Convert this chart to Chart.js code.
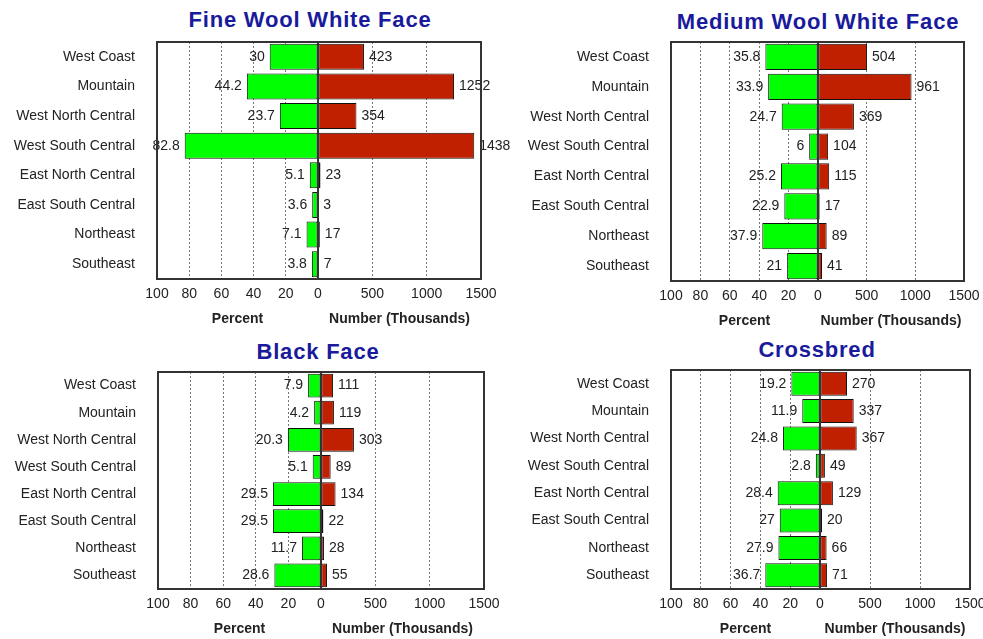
<!DOCTYPE html>
<html>
<head>
<meta charset="utf-8">
<script src="https://cdn.jsdelivr.net/npm/chart.js@4/dist/chart.umd.min.js"></script>
<style>
  body { margin: 0; background: #fff; }
  #wrap { position: relative; width: 983px; height: 639px; overflow: hidden; }
  #wrap canvas { position: absolute; }
  .title { position: absolute; transform: translate(-50%, -50%); white-space: nowrap; letter-spacing: 0.8px;
           font: bold 22px "Liberation Sans", Arial, sans-serif; color: #1a1a9c; }
</style>
</head>
<body>
<div id="wrap"></div>
<script>
// Datos
const regions = ['West Coast','Mountain','West North Central','West South Central',
                 'East North Central','East South Central','Northeast','Southeast'];
const panelTitles = ['Fine Wool White Face','Medium Wool White Face','Black Face','Crossbred'];

const fineWoolPct    = [30, 44.2, 23.7, 82.8, 5.1, 3.6, 7.1, 3.8];
const fineWoolNum    = [423, 1252, 354, 1438, 23, 3, 17, 7];
const mediumWoolPct  = [35.8, 33.9, 24.7, 6, 25.2, 22.9, 37.9, 21];
const mediumWoolNum  = [504, 961, 369, 104, 115, 17, 89, 41];
const blackFacePct   = [7.9, 4.2, 20.3, 5.1, 29.5, 29.5, 11.7, 28.6];
const blackFaceNum   = [111, 119, 303, 89, 134, 22, 28, 55];
const crossbredPct   = [19.2, 11.9, 24.8, 2.8, 28.4, 27, 27.9, 36.7];
const crossbredNum   = [270, 337, 367, 49, 129, 20, 66, 71];

const pctSeries = [fineWoolPct, mediumWoolPct, blackFacePct, crossbredPct];
const numSeries = [fineWoolNum, mediumWoolNum, blackFaceNum, crossbredNum];

const pctMax = 100, pctStep = 20;
const numMax = 1500, numStep = 500;

// Posición de cada panel (pl = borde izq., z = cero, nr = borde der.)
const boxes = [
  { pl: 157, z: 318, nr: 481, top: 42,  bot: 279, tx: 310, ty: 20 },
  { pl: 671, z: 818, nr: 964, top: 42,  bot: 281, tx: 818, ty: 22 },
  { pl: 158, z: 321, nr: 484, top: 372, bot: 589, tx: 318, ty: 352 },
  { pl: 671, z: 820, nr: 970, top: 370, bot: 589, tx: 817, ty: 350 }
];

const FONT = '"Liberation Sans", Arial, sans-serif';
const GREEN = '#00ff00', RED = '#c02000';
const yW = 150, padT = 10, axisH = 52, padL = 12, padR = 45;

const wrap = document.getElementById('wrap');

// Marco + etiquetas de valores
const frameAndLabels = {
  id: 'frameAndLabels',
  afterDraw(chart) {
    const { ctx, chartArea: a } = chart;
    const side = chart.options.plugins.frameAndLabels.side;
    ctx.save();
    ctx.font = '14px ' + FONT;
    ctx.fillStyle = '#222';
    ctx.textBaseline = 'middle';
    ctx.textAlign = side === 'pct' ? 'right' : 'left';
    const ds = chart.data.datasets[0];
    chart.getDatasetMeta(0).data.forEach((el, i) => {
      const x = side === 'pct' ? el.x - 5 : el.x + 5;
      ctx.fillText(String(ds.data[i]), x, el.y);
    });
    ctx.strokeStyle = '#333';
    ctx.lineWidth = 2;
    ctx.strokeRect(a.left, a.top, a.right - a.left, a.bottom - a.top);
    ctx.restore();
  }
};

function zeroPad(scale) { scale.paddingLeft = 0; scale.paddingRight = 0; scale.paddingTop = 0; scale.paddingBottom = 0; }

function makeCanvas(left, top, w, h) {
  const c = document.createElement('canvas');
  c.width = w; c.height = h;
  c.style.left = left + 'px'; c.style.top = top + 'px';
  c.style.width = w + 'px'; c.style.height = h + 'px';
  wrap.appendChild(c);
  return c.getContext('2d');
}

function xScale(side, max, step, title) {
  return {
    type: 'linear', min: 0, max: max, reverse: side === 'pct',
    afterFit: s => { s.height = axisH; zeroPad(s); },
    ticks: { stepSize: step, padding: 7, color: '#222', font: { family: FONT, size: 14 },
             maxRotation: 0, autoSkip: false,
             callback: v => (side === 'num' && v === 0) ? '' : v },
    grid: { drawTicks: false, color: '#777', lineWidth: 1 },
    border: { display: false, dash: [2, 2] },
    title: { display: true, text: title, color: '#222', padding: { top: 0, bottom: 3 },
             font: { family: FONT, size: 14, weight: 'bold' } }
  };
}

boxes.forEach((b, p) => {
  const t = document.createElement('div');
  t.className = 'title';
  t.textContent = panelTitles[p];
  t.style.left = b.tx + 'px'; t.style.top = b.ty + 'px';
  wrap.appendChild(t);

  const h = padT + (b.bot - b.top) + axisH;
  const top = b.top - padT;

  // Lado porcentaje (verde)
  const ctxP = makeCanvas(b.pl - yW, top, yW + (b.z - b.pl) + padL, h);
  new Chart(ctxP, {
    type: 'bar',
    data: { labels: regions, datasets: [{ data: pctSeries[p], backgroundColor: GREEN,
            borderColor: '#111', borderWidth: 1, borderSkipped: false,
            barPercentage: 0.88, categoryPercentage: 1 }] },
    options: {
      indexAxis: 'y', responsive: false, animation: false,
      layout: { padding: { top: padT, right: padL, left: 0, bottom: 0 } },
      plugins: { legend: { display: false }, tooltip: { enabled: false }, frameAndLabels: { side: 'pct' } },
      scales: {
        x: xScale('pct', pctMax, pctStep, 'Percent'),
        y: { afterFit: s => { s.width = yW; zeroPad(s); },
             grid: { display: false }, border: { display: false },
             ticks: { padding: 14, color: '#222', font: { family: FONT, size: 14 } } }
      }
    },
    plugins: [frameAndLabels]
  });

  // Lado número (rojo)
  const ctxN = makeCanvas(b.z - padL, top, padL + (b.nr - b.z) + padR, h);
  new Chart(ctxN, {
    type: 'bar',
    data: { labels: regions, datasets: [{ data: numSeries[p], backgroundColor: RED,
            borderColor: '#111', borderWidth: 1, borderSkipped: false,
            barPercentage: 0.88, categoryPercentage: 1 }] },
    options: {
      indexAxis: 'y', responsive: false, animation: false,
      layout: { padding: { top: padT, right: padR, left: padL, bottom: 0 } },
      plugins: { legend: { display: false }, tooltip: { enabled: false }, frameAndLabels: { side: 'num' } },
      scales: {
        x: xScale('num', numMax, numStep, 'Number (Thousands)'),
        y: { display: false }
      }
    },
    plugins: [frameAndLabels]
  });
});
</script>
</body>
</html>
